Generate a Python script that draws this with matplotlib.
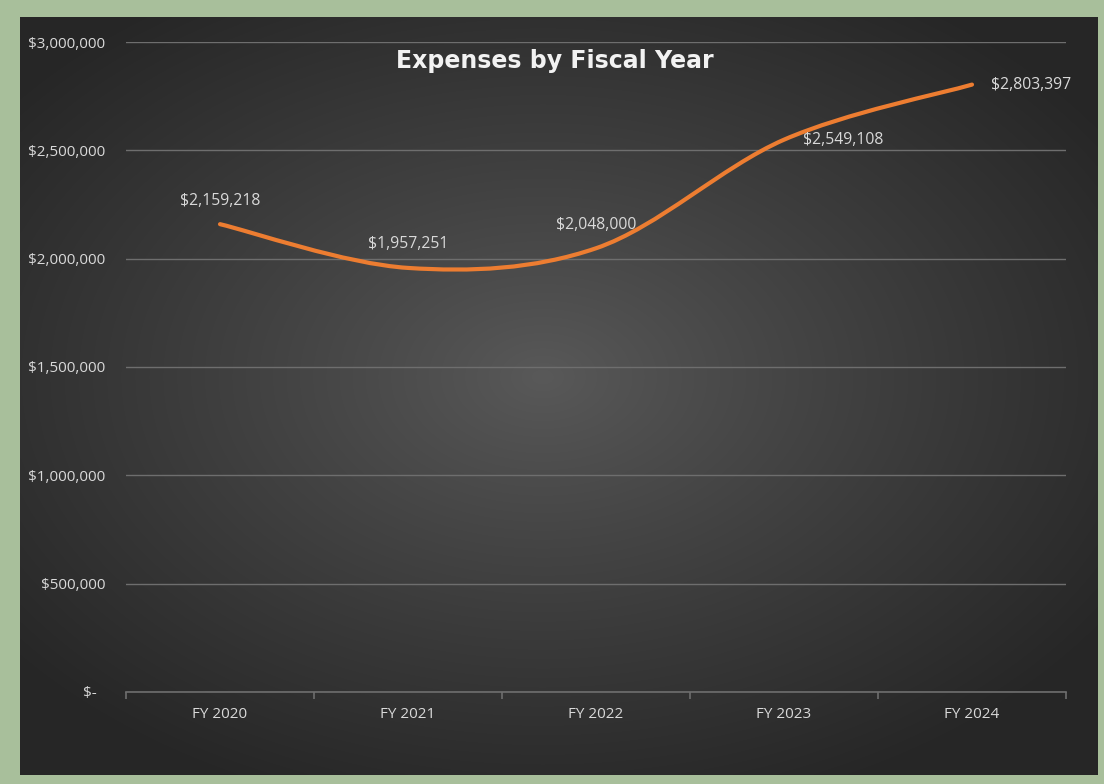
import matplotlib.pyplot as plt
import numpy as np
from matplotlib.path import Path
from matplotlib.patches import PathPatch

plt.rcParams['font.family'] = ['Open Sans', 'DejaVu Sans']

# data
anos = ["FY 2020", "FY 2021", "FY 2022", "FY 2023", "FY 2024"]
despesas = [2159218, 1957251, 2048000, 2549108, 2803397]
y_ticks = [0, 500000, 1000000, 1500000, 2000000, 2500000, 3000000]
y_labels = ["$-  ", "$500,000", "$1,000,000", "$1,500,000", "$2,000,000", "$2,500,000", "$3,000,000"]
rotulos = ["$2,159,218", "$1,957,251", "$2,048,000", "$2,549,108", "$2,803,397"]
posicao = ["above", "above", "above", "right", "right"]

LARANJA = "#ED7D31"
VERDE = "#A8BF9B"
TEXTO = "#D9D9D9"
GRADE = "#6E6E6E"

W, H = 1104, 784
fig = plt.figure(figsize=(W / 100, H / 100), dpi=100)
fig.patch.set_facecolor(VERDE)

# dark panel with radial gradient
bg = fig.add_axes([20 / W, (H - 775) / H, (1098 - 20) / W, (775 - 17) / H])
bg.set_axis_off()
gx, gy = np.meshgrid(np.linspace(-1, 1, 540), np.linspace(-1, 1, 380))
r = np.sqrt(((gx + 0.03) / 1.05) ** 2 + ((gy + 0.05) / 1.0) ** 2)
r = np.clip(r, 0, 1.2) / 1.2
cor = 0.35 - (0.35 - 0.150) * r ** 0.9
bg.imshow(np.dstack([cor, cor, cor]), extent=[0, 1, 0, 1], aspect='auto', interpolation='bicubic')
bg.set_xlim(0, 1)
bg.set_ylim(0, 1)

ax = fig.add_axes([126 / W, (H - 692) / H, (1066 - 126) / W, (692 - 42) / H])
ax.set_facecolor('none')
ax.set_xlim(-0.5, len(anos) - 0.5)
ax.set_ylim(0, 3000000)

for s in ['top', 'right', 'left']:
    ax.spines[s].set_visible(False)
ax.spines['bottom'].set_color(GRADE)
ax.spines['bottom'].set_linewidth(1.2)

ax.set_yticks(y_ticks)
ax.set_yticklabels(y_labels)
ax.yaxis.grid(True, color=GRADE, linewidth=1.0)
ax.set_axisbelow(True)
ax.tick_params(axis='y', length=0, pad=15, labelsize=11, labelcolor=TEXTO)

x = np.arange(len(anos))
ax.set_xticks(x)
ax.set_xticklabels(anos)
ax.set_xticks(np.arange(len(anos) + 1) - 0.5, minor=True)
ax.tick_params(axis='x', which='major', length=0, pad=11, labelsize=11, labelcolor=TEXTO)
ax.tick_params(axis='x', which='minor', length=5, width=1.2, color=GRADE, direction='out')

# smoothed line (catmull-rom as cubic bezier segments)
pts = np.column_stack([x, despesas]).astype(float)
ext = np.vstack([pts[0], pts, pts[-1]])
verts = [tuple(pts[0])]
codes = [Path.MOVETO]
for i in range(len(pts) - 1):
    p0, p1, p2, p3 = ext[i], ext[i + 1], ext[i + 2], ext[i + 3]
    c1 = p1 + (p2 - p0) / 6.0
    c2 = p2 - (p3 - p1) / 6.0
    verts += [tuple(c1), tuple(c2), tuple(p2)]
    codes += [Path.CURVE4] * 3
ax.add_patch(PathPatch(Path(verts, codes), facecolor='none', edgecolor=LARANJA,
                       linewidth=3.0, capstyle='round', joinstyle='round', zorder=3))

for xi, yi, txt, pos in zip(x, despesas, rotulos, posicao):
    if pos == "above":
        ax.annotate(txt, (xi, yi), xytext=(0, 17), textcoords='offset points',
                    ha='center', va='center', fontsize=11.3, color=TEXTO)
    else:
        ax.annotate(txt, (xi, yi), xytext=(14, 0), textcoords='offset points',
                    ha='left', va='center', fontsize=11.3, color=TEXTO)

fig.text(555 / W, 1 - 61 / H, "Expenses by Fiscal Year", ha='center', va='center',
         fontsize=17, fontweight='bold', color='#F2F2F2', family='DejaVu Sans')

fig.savefig("out.png", dpi=100, facecolor=fig.get_facecolor())
